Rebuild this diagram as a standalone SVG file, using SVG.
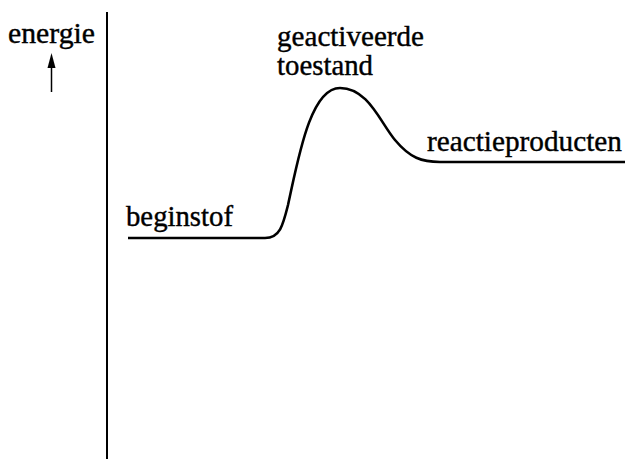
<svg xmlns="http://www.w3.org/2000/svg" width="625" height="459" viewBox="0 0 625 459">
<style>
.t{font-family:'Liberation Serif','Times New Roman',Times,serif;font-size:29px;fill:#000;stroke:#000;stroke-width:0.4}
.ln{fill:none;stroke:#000}
</style>
<g id="axis">
<line class="ln" x1="107" y1="12" x2="107" y2="459" stroke-width="2"/>
</g>
<g id="energie">
<text class="t" x="8" y="43" textLength="87" lengthAdjust="spacingAndGlyphs">energie</text>
<line class="ln" x1="51.5" y1="92" x2="51.5" y2="66" stroke-width="1.5"/>
<path d="M47.5,68 L51.5,53 L55.5,68 Z" fill="#000"/>
</g>
<g id="connectors">
<path class="ln" stroke-width="2.6" d="M128,238 H265 C280,238 283,225 288,205 C298,160 310,88 340,88 C368,88 380,122 395,140 C410,158 422,162 440,162 H625"/>
</g>
<g id="beginstof"><text class="t" x="126" y="226" textLength="107" lengthAdjust="spacingAndGlyphs">beginstof</text></g>
<g id="geactiveerde"><text class="t" x="277" y="46" textLength="147" lengthAdjust="spacingAndGlyphs">geactiveerde</text><text class="t" x="277" y="75" textLength="96" lengthAdjust="spacingAndGlyphs">toestand</text></g>
<g id="reactieproducten"><text class="t" x="427" y="151" textLength="195" lengthAdjust="spacingAndGlyphs">reactieproducten</text></g>
</svg>
